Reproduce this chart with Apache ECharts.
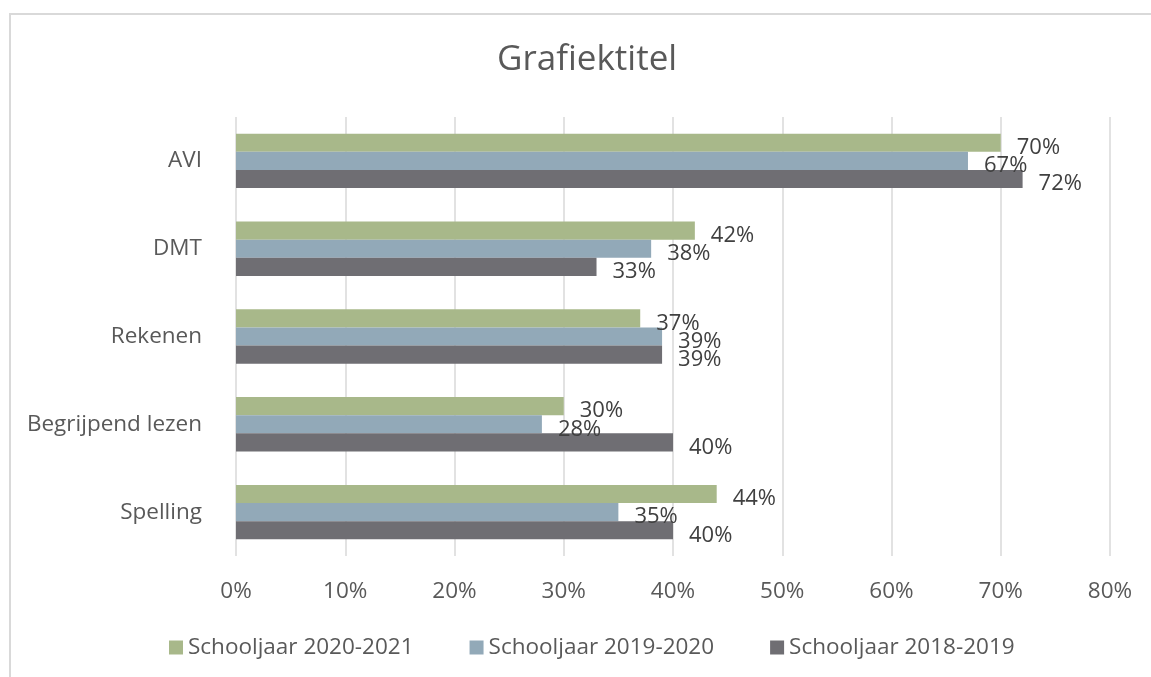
<!DOCTYPE html>
<html>
<head>
<meta charset="utf-8" />
<title>Grafiektitel</title>
<script src="https://cdn.jsdelivr.net/npm/echarts@6/dist/echarts.min.js"></script>
<style>
	html, body { margin: 0; padding: 0; background: #fff; overflow: hidden; }
	#main { width: 1151px; height: 677px; }
</style>
</head>
<body>
<div id="main"></div>
<script>
	// categories (top to bottom)
	var categories = ['AVI', 'DMT', 'Rekenen', 'Begrijpend lezen', 'Spelling'];
	var seriesNames = ['Schooljaar 2020-2021', 'Schooljaar 2019-2020', 'Schooljaar 2018-2019'];
	var year2021 = [70, 42, 37, 30, 44];
	var year2020 = [67, 38, 39, 28, 35];
	var year2019 = [72, 33, 39, 40, 40];
	var colors = ['#a8b88a', '#92a9b8', '#6f6e73'];
	var xTicks = [0, 10, 20, 30, 40, 50, 60, 70, 80];

	var font = "'Open Sans', 'Noto Sans', sans-serif";

	function makeSeries(name, values, color) {
		return {
			name: name,
			type: 'bar',
			data: values,
			barGap: 0,
			barCategoryGap: '38%',
			itemStyle: { color: color },
			label: {
				show: true,
				position: 'right',
				distance: 6,
				offset: [10, 5],
				formatter: '{c}%',
				color: '#404040',
				fontSize: 22,
				fontFamily: font
			}
		};
	}

	var myChart = echarts.init(document.getElementById('main'));
	var option = {
		animation: false,
		color: colors,
		title: {
			text: 'Grafiektitel',
			left: 492,
			top: 38,
			textStyle: { color: '#595959', fontSize: 35, fontWeight: 'normal', fontFamily: font }
		},
		graphic: [{
			type: 'rect',
			shape: { x: 10, y: 14, width: 1400, height: 900 },
			style: { fill: 'none', stroke: '#d9d9d9', lineWidth: 2 },
			silent: true
		}],
		legend: {
			top: 631,
			left: 164,
			itemWidth: 14,
			itemHeight: 14,
			itemGap: 56,
			icon: 'rect',
			textStyle: { color: '#595959', fontSize: 22.5, fontFamily: font },
			data: seriesNames
		},
		grid: { left: 236, right: 41, top: 117, bottom: 121 },
		xAxis: {
			type: 'value',
			min: xTicks[0],
			max: xTicks[xTicks.length - 1],
			interval: 10,
			axisLine: { show: false },
			axisTick: { show: false },
			splitLine: { lineStyle: { color: '#d9d9d9', width: 1.5 } },
			axisLabel: { formatter: '{value}%', margin: 24, color: '#595959', fontSize: 22.5, fontFamily: font }
		},
		yAxis: {
			type: 'category',
			inverse: true,
			data: categories,
			axisLine: { show: false },
			axisTick: { show: false },
			axisLabel: { margin: 34, color: '#595959', fontSize: 22.5, fontFamily: font }
		},
		series: [
			makeSeries(seriesNames[0], year2021, colors[0]),
			makeSeries(seriesNames[1], year2020, colors[1]),
			makeSeries(seriesNames[2], year2019, colors[2])
		]
	};
	myChart.setOption(option);
</script>
</body>
</html>
